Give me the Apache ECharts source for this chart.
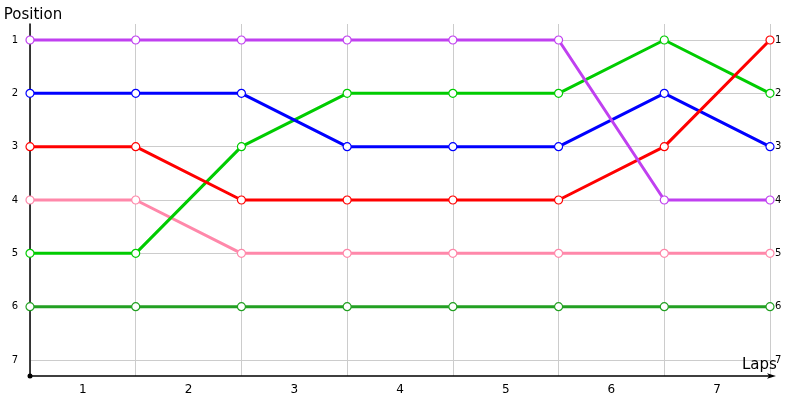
<!DOCTYPE html>
<html><head><meta charset="utf-8">
<script src="https://cdn.jsdelivr.net/npm/echarts@6/dist/echarts.min.js"></script>
<style>html,body{margin:0;padding:0;background:#fff}#c{width:800px;height:400px}</style>
</head><body><div id="c"></div>
<script>
const lapLabels = ['1','2','3','4','5','6','7'];
const pointIndex = [0,1,2,3,4,5,6,7];
const positionTicks = [1,2,3,4,5,6,7];
const purple = [1,1,1,1,1,1,4,4];
const blue = [2,2,2,3,3,3,2,3];
const red = [3,3,4,4,4,4,3,1];
const pink = [4,4,5,5,5,5,5,5];
const lightGreen = [5,5,3,2,2,2,1,2];
const darkGreen = [6,6,6,6,6,6,6,6];

const seriesDefs = [
  {name:'darkGreen', data: darkGreen, color:'#22a022'},
  {name:'pink', data: pink, color:'#ff88aa'},
  {name:'lightGreen', data: lightGreen, color:'#00cc00'},
  {name:'blue', data: blue, color:'#0000ff'},
  {name:'red', data: red, color:'#ff0000'},
  {name:'purple', data: purple, color:'#c040f0'}
];
const font = 'DejaVu Sans';
const chart = echarts.init(document.getElementById('c'));
chart.setOption({
  animation: false,
  grid: {left: 30, right: 30, top: 24, bottom: 24, containLabel: false, outerBoundsMode: 'none'},
  xAxis: [{
    type: 'value', min: 0, max: 7, interval: 1,
    axisLine: {show: true, lineStyle: {color: '#000', width: 1.5}, symbol: ['circle','arrow'], symbolSize: [4, 9], symbolOffset: [0, 6]},
    axisTick: {show: false}, axisLabel: {show: false},
    splitLine: {show: true, lineStyle: {color: '#cccccc', width: 1}},
    name: 'Laps', nameLocation: 'end', nameGap: -28, nameMoveOverlap: false,
    nameTextStyle: {fontFamily: font, fontSize: 15, color: '#000', verticalAlign: 'bottom', padding: [0,0,3,0]}
  },{
    type: 'category', data: lapLabels, boundaryGap: true, position: 'bottom',
    axisLine: {show: false}, axisTick: {show: false},
    axisLabel: {fontFamily: font, fontSize: 12, color: '#000', margin: 8},
    splitLine: {show: false}
  }],
  yAxis: [{
    type: 'value', inverse: true, min: 0.7, max: 7.3,
    axisLine: {show: true, lineStyle: {color: '#000', width: 1.5}, symbol: ['circle','none'], symbolSize: [5, 5]},
    axisTick: {show: false, customValues: positionTicks},
    axisLabel: {fontFamily: font, fontSize: 10, color: '#000', margin: 12, customValues: positionTicks},
    splitLine: {show: true, lineStyle: {color: '#cccccc', width: 1}},
    name: 'Position', nameLocation: 'start', nameGap: 1, nameMoveOverlap: false,
    nameTextStyle: {fontFamily: font, fontSize: 15, color: '#000', align: 'center', padding: [0,0,0,6]}
  },{
    type: 'value', inverse: true, min: 0.7, max: 7.3, position: 'right',
    axisLine: {show: false}, axisTick: {show: false, customValues: positionTicks},
    axisLabel: {fontFamily: font, fontSize: 10, color: '#000', margin: 5, customValues: positionTicks},
    splitLine: {show: false}
  }],
  series: seriesDefs.map(s => ({
    type: 'line', name: s.name, xAxisIndex: 0, yAxisIndex: 0,
    data: pointIndex.map((x, i) => [x, s.data[i]]),
    symbol: 'circle', symbolSize: 8,
    lineStyle: {color: s.color, width: 3},
    itemStyle: {color: '#fff', borderColor: s.color, borderWidth: 1.2},
    z: 3
  }))
});
</script></body></html>
